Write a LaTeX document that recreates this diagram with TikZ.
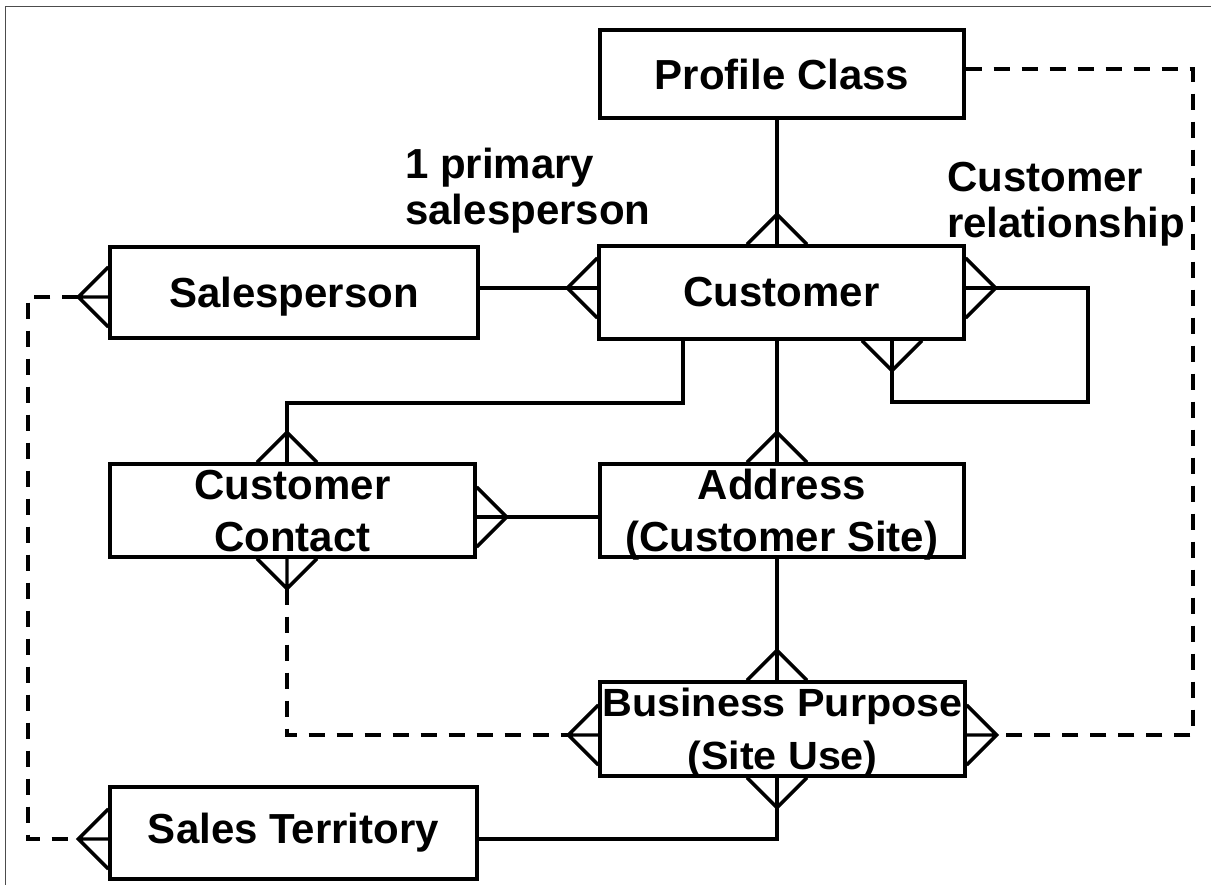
\documentclass[tikz,border=0pt]{standalone}
\usepackage{fontspec}
\setmainfont{Liberation Sans}
\usetikzlibrary{calc}
\begin{document}
\begin{tikzpicture}[x=0.75pt,y=-0.75pt,
  every node/.style={font=\bfseries\fontsize{31.5}{39}\selectfont},
  ent/.style={draw, line width=2.5pt, fill=white, inner sep=0pt, align=center},
  rel/.style={line width=2.6pt},
  opt/.style={line width=3pt, dash pattern=on 12pt off 9pt},
  lbl/.style={align=left, inner sep=0pt, anchor=north west, font=\bfseries\fontsize{31.5}{34.5}\selectfont},
  footW/.pic={\draw[rel] (-30,0) -- (0,0) (0,-30) -- (-30,0) -- (0,30);},
  footE/.pic={\draw[rel] (30,0) -- (0,0) (0,-30) -- (30,0) -- (0,30);},
  footN/.pic={\draw[rel] (0,-30) -- (0,0) (-30,0) -- (0,-30) -- (30,0);},
  footS/.pic={\draw[rel] (0,30) -- (0,0) (-30,0) -- (0,30) -- (30,0);},
]
\useasboundingbox (0,0) rectangle (1211,885);
\draw[line width=1.1pt, black!70] (5.5,885) -- (5.5,6.5) -- (1211,6.5);

% entities
\node[ent, minimum width=273pt, minimum height=66pt] (pc) at (782,74) {Profile Class};
\node[ent, minimum width=273.75pt, minimum height=69.75pt] (cu) at (781.5,292.5) {Customer};
\node[ent, minimum width=276pt, minimum height=68.25pt, text depth=0pt] (sp) at (294,292.5) {Salesperson};
\node[ent, minimum width=273.75pt, minimum height=69.75pt, text depth=0pt] (cc) at (292.5,510.5) {Customer\\Contact};
\node[ent, minimum width=273pt, minimum height=69.75pt, text depth=0pt] (ad) at (782,510.5) {Address\\(Customer Site)};
\node[ent, minimum width=273.75pt, minimum height=70.5pt, text depth=0pt,
      font=\bfseries\fontsize{29.5}{39.75}\selectfont] (bp) at (782.5,729)
      {\scalebox{1.05}[1]{Business Purpose}\\\scalebox{1.05}[1]{(Site Use)}};
\node[ent, minimum width=275.25pt, minimum height=69pt] (st) at (293.5,833) {Sales Territory};

% labels
\node[lbl] (l1) at (405,148) {1 primary\\salesperson};
\node[lbl] (l2) at (947,162) {Customer\\relationship};

% helper coordinates
\coordinate (vx) at (777,0);
\coordinate (cx) at (683,0);
\coordinate (lx) at (892,0);
\coordinate (lp) at (1088,402);
\coordinate (j1) at (287,403);
\coordinate (rx) at (1193,0);
\coordinate (lx2) at (28,0);
\coordinate (h1) at (0,288);
\coordinate (h2) at (0,517);
\coordinate (h3) at (0,839);
\coordinate (h4) at (0,69);
\coordinate (h5) at (0,735);
\coordinate (h6) at (0,297);

% solid relationships
\draw[rel] (pc.south -| vx) -- (cu.north -| vx);
\pic at (cu.north -| vx) {footN};
\draw[rel] (sp.east |- h1) -- (cu.west |- h1);
\pic at (cu.west |- h1) {footW};
\draw[rel] (cu.east |- h1) -| (lp) -| (cu.south -| lx);
\pic at (cu.east |- h1) {footE};
\pic at (cu.south -| lx) {footS};
\draw[rel] (cu.south -| cx) |- (j1) -- (cc.north -| j1);
\pic at (cc.north -| j1) {footN};
\draw[rel] (cu.south -| vx) -- (ad.north -| vx);
\pic at (ad.north -| vx) {footN};
\draw[rel] (ad.south -| vx) -- (bp.north -| vx);
\pic at (bp.north -| vx) {footN};
\draw[rel] (cc.east |- h2) -- (ad.west |- h2);
\pic at (cc.east |- h2) {footE};
\draw[rel] (st.east |- h3) -| (bp.south -| vx);
\pic at (bp.south -| vx) {footS};

% optional (dashed) relationships
\draw[opt] (pc.east |- h4) -| (rx |- h5) -- ($(bp.east |- h5)+(30,0)$);
\pic at (bp.east |- h5) {footE};
\draw[opt] ($(cc.south -| j1)+(0,30)$) |- ($(bp.west |- h5)+(-30,0)$);
\pic at (cc.south -| j1) {footS};
\pic at (bp.west |- h5) {footW};
\draw[opt] ($(sp.west |- h6)+(-30,0)$) -| (lx2 |- h3) -- ($(st.west |- h3)+(-30,0)$);
\pic at (sp.west |- h6) {footW};
\pic at (st.west |- h3) {footW};
\end{tikzpicture}
\end{document}
